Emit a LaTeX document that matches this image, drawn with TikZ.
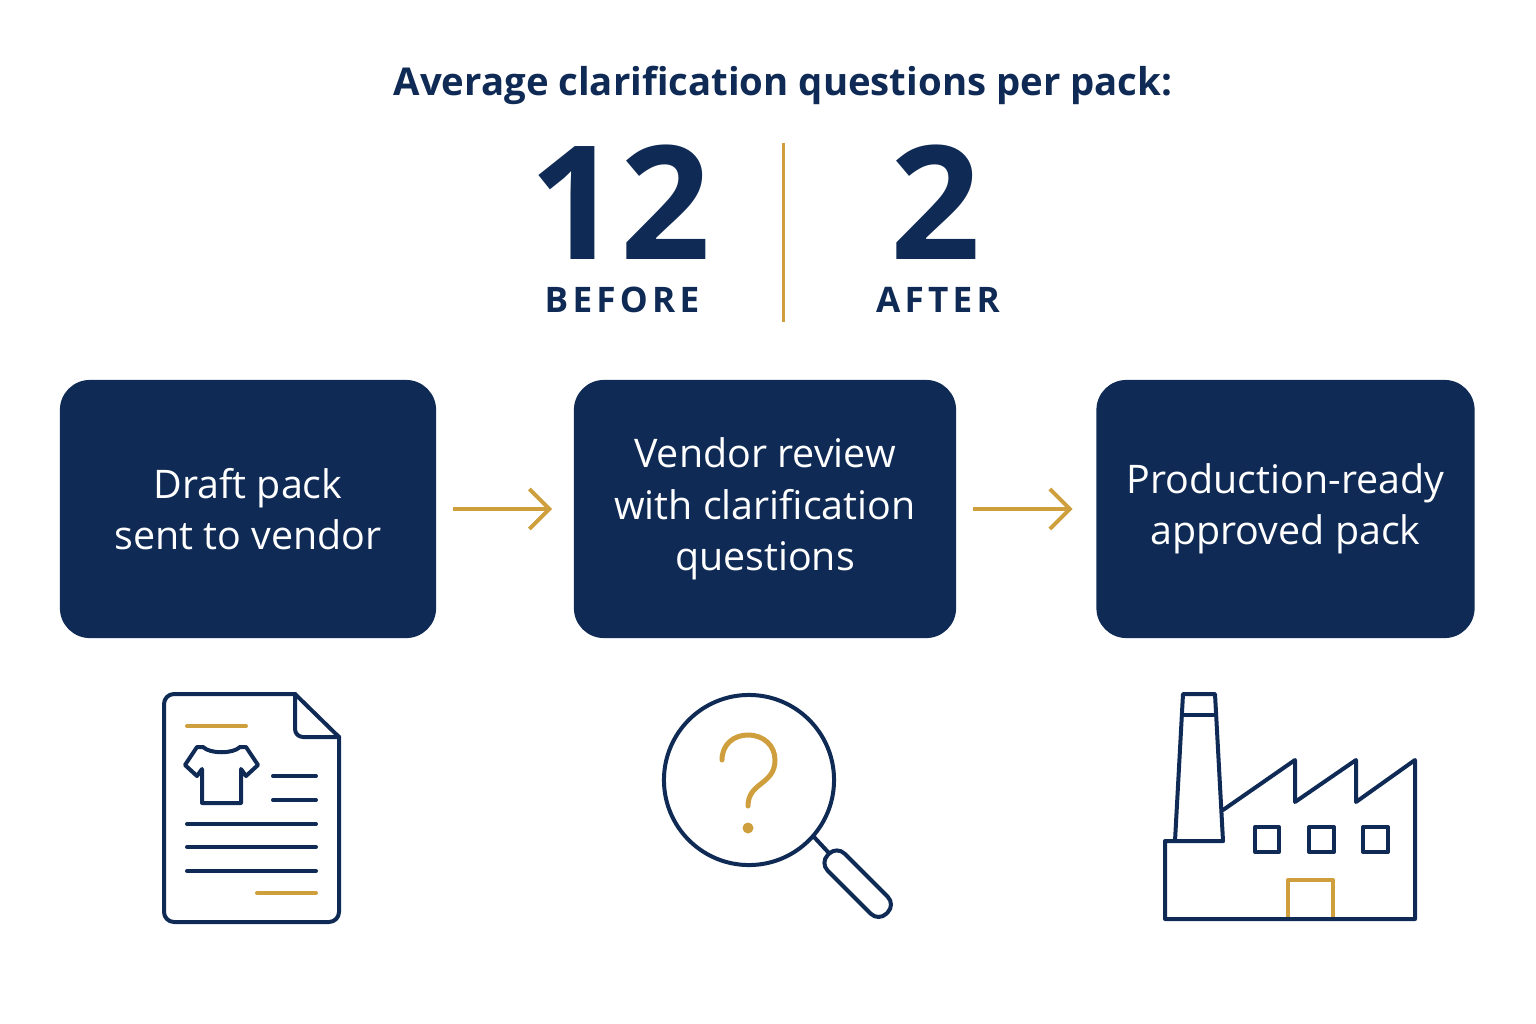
\documentclass[tikz,border=0pt]{standalone}
\usepackage{fontspec}
\setmainfont{Open Sans}
\newfontfamily\spacedfont[LetterSpace=12]{Open Sans}
\usetikzlibrary{arrows.meta}

\definecolor{navy}{HTML}{0F2A55}
\definecolor{gold}{HTML}{CF9F3D}

\tikzset{
    stepbox/.style={fill=navy, text=white, rounded corners=0.3cm, minimum height=2.58cm, align=center, font=\fontsize{11.2}{14.6}\selectfont},
    flowarrow/.style={gold, line width=0.04cm, -{Straight Barb[length=0.2cm, width=0.4cm]}},
    iconline/.style={navy, line width=0.04cm, line cap=round, line join=round},
    goldline/.style={gold, line width=0.04cm, line cap=round, line join=round}
}

\begin{document}
\begin{tikzpicture}[x=0.01cm, y=-0.01cm]
    \useasboundingbox (0,0) rectangle (1536,1024);

    % Title and the two numbers
    \node[text=navy, font=\fontsize{10.9}{13}\bfseries] (title) at (783,85) {Average clarification questions per pack:};
    \node[text=navy, font=\fontsize{45}{50}\bfseries] (before) at (620,202) {12};
    \node[text=navy, font=\fontsize{45}{50}\bfseries] (after) at (936,202) {2};
    \node[text=navy, font=\fontsize{10}{12}\bfseries\spacedfont] (beforelabel) at (622,300) {BEFORE};
    \node[text=navy, font=\fontsize{10}{12}\bfseries\spacedfont] (afterlabel) at (938,300) {AFTER};

    % Divider between the numbers
    \coordinate (divtop) at (783,143);
    \coordinate (divbot) at (783,322);
    \draw[gold, line width=0.03cm] (divtop) -- (divbot);

    % The three steps
    \node[stepbox, minimum width=3.76cm] (draft) at (248,509) {Draft pack\\sent to vendor};
    \node[stepbox, minimum width=3.82cm] (review) at (765,509) {Vendor review\\with clarification\\questions};
    \node[stepbox, minimum width=3.78cm] (ready) at (1285.5,509) {Production-ready\\approved pack};

    \draw[flowarrow, shorten <=0.16cm, shorten >=0.21cm] (draft) -- (review);
    \draw[flowarrow, shorten <=0.16cm, shorten >=0.23cm] (review) -- (ready);

    % Document icon
    \draw[iconline, rounded corners=0.1cm] (295,694) -- (164,694) -- (164,922) -- (339,922) -- (339,737);
    \draw[iconline] (295,694) -- (339,737);
    \draw[iconline, rounded corners=0.08cm] (295,694) -- (295,737) -- (339,737);
    \draw[goldline] (187,726) -- (246,726);
    \draw[goldline] (257,893) -- (316,893);
    \draw[iconline] (273,776) -- (316,776);
    \draw[iconline] (273,800) -- (316,800);
    \draw[iconline] (187,824) -- (316,824);
    \draw[iconline] (187,847) -- (316,847);
    \draw[iconline] (187,871) -- (316,871);

    % Shirt on the document
    \draw[iconline] (203,747) .. controls (210,754) and (233,754) .. (240,747) -- (246,747) -- (258,765) -- (246,776) -- (241,769) -- (241,803) -- (202,803) -- (202,769) -- (197,776) -- (185,765) -- (197,747) -- cycle;

    % Magnifying glass with question mark
    \draw[iconline] (749,780) circle[radius=0.85cm];
    \draw[iconline] (814,837) -- (828,852);
    \draw[iconline, shift={(834,860)}, rotate=-45, rounded corners=0.11cm] (-8,-12) rectangle (75,12);
    \draw[goldline, line width=0.05cm] (722,760) .. controls (722,744) and (734,735) .. (748,735) .. controls (764,735) and (775,746) .. (775,760) .. controls (775,785) and (748,782) .. (748,806);
    \fill[gold] (748,828) circle[radius=0.055cm];

    % Factory icon
    \draw[iconline] (1175,841) -- (1183,694) -- (1215,694) -- (1223,841);
    \draw[iconline] (1182,715) -- (1216,715);
    \draw[goldline] (1288,919) -- (1288,880) -- (1333,880) -- (1333,919);
    \draw[iconline] (1223,841) -- (1165,841) -- (1165,919) -- (1415,919) -- (1415,760) -- (1356,802) -- (1356,760) -- (1295,802) -- (1295,760) -- (1223,810);
    \draw[iconline] (1255,827) rectangle (1279,852);
    \draw[iconline] (1309,827) rectangle (1334,852);
    \draw[iconline] (1363,827) rectangle (1388,852);
\end{tikzpicture}
\end{document}
